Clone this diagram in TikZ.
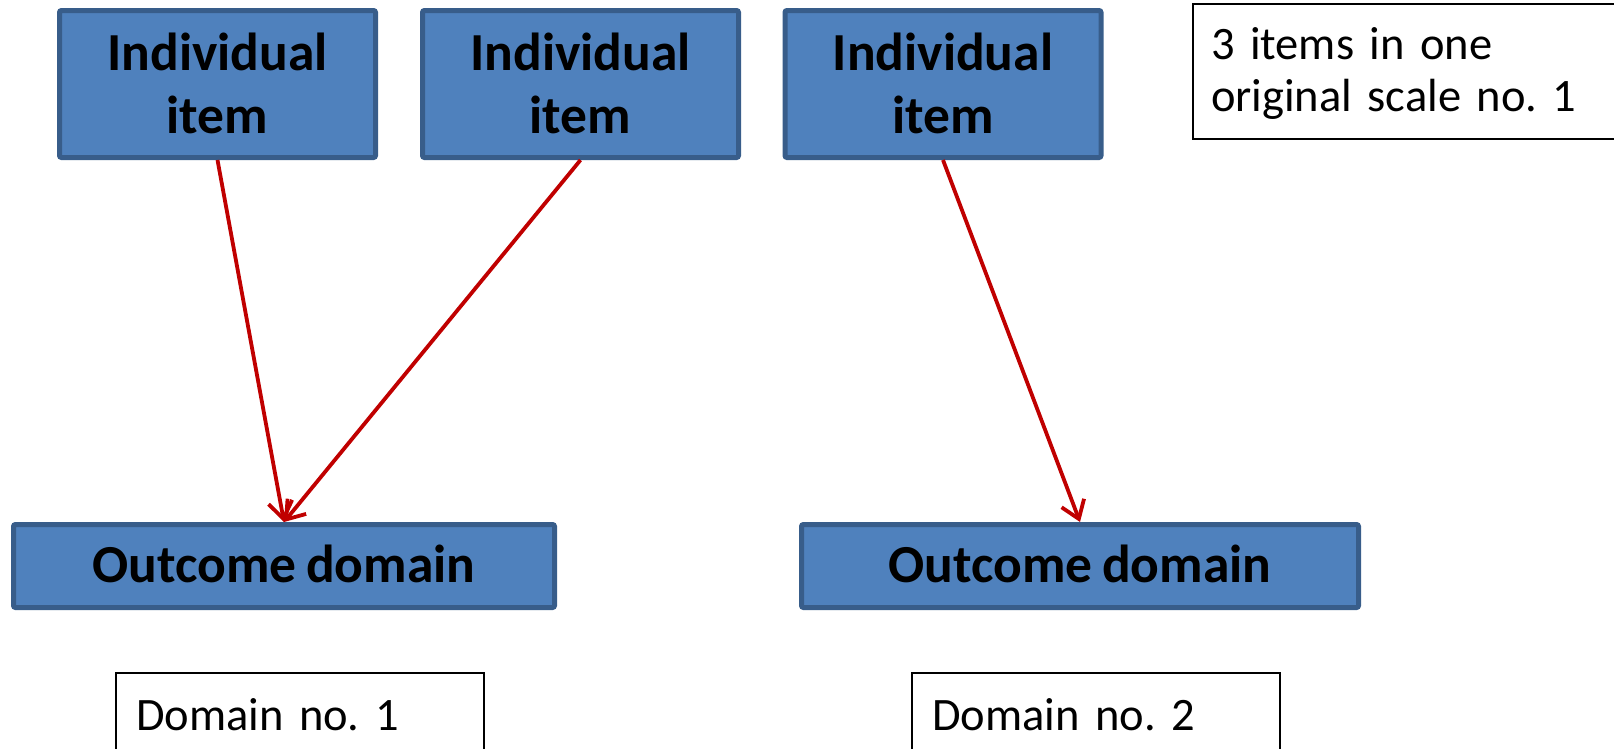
\documentclass[tikz,border=0pt]{standalone}
\usepackage{fontspec}
\setmainfont{Carlito}[WordSpace=0.8]
\usetikzlibrary{arrows.meta}
\definecolor{boxfill}{HTML}{4F81BD}
\definecolor{boxline}{HTML}{385D8A}
\definecolor{linkred}{HTML}{C00000}
\frenchspacing
\begin{document}
\begin{tikzpicture}[x=1pt,y=-1pt,
  itembox/.style={draw=boxline, fill=boxfill, line width=5pt, rounded corners=2pt,
    inner sep=0pt, align=center, font={\fontsize{53.5}{63}\selectfont\bfseries}},
  notebox/.style={draw=black, line width=2pt, outer sep=0pt, inner ysep=0pt,
    inner xsep=18pt, align=left, anchor=north west,
    font={\fontsize{46.5}{52}\selectfont}},
  link/.style={draw=linkred, line width=3.8pt,
    -{Straight Barb[length=17pt,width=24pt]}}
]
\useasboundingbox (0,0) rectangle (1614,748);
\clip (0,0) rectangle (1614,748);

% individual items (baseline of the last line sets the text height)
\node[itembox, minimum width=316pt, text height=122.5pt, text depth=24.5pt]
  (i1) at (217.5,84) {Individual\\item};
\node[itembox, minimum width=316pt, text height=122.5pt, text depth=24.5pt]
  (i2) at (580.5,84) {Individual\\item};
\node[itembox, minimum width=316pt, text height=122.5pt, text depth=24.5pt]
  (i3) at (943,84) {Individual\\item};

% outcome domains
\node[itembox, minimum width=541pt, text height=57.5pt, text depth=25.5pt]
  (o1) at (284,566) {Outcome domain};
\node[itembox, minimum width=557pt, text height=57.5pt, text depth=25.5pt]
  (o2) at (1080,566) {Outcome domain};

% notes
\node[notebox, text width=420pt, text height=55pt, text depth=80pt]
  (scale) at (1193,4) {3 items in one\\original scale no. 1};
\node[notebox, inner xsep=20pt, text width=328pt, text height=57.3pt, text depth=100pt]
  (d1) at (116,672.7) {Domain no. 1};
\node[notebox, inner xsep=20pt, text width=328pt, text height=57.3pt, text depth=100pt]
  (d2) at (912.3,672.7) {Domain no. 2};

% links
\draw[link] (i1.south) -- (o1.north);
\draw[link] (i2.south) -- (o1.north);
\draw[link] (i3.south) -- (o2.north);
\end{tikzpicture}
\end{document}
